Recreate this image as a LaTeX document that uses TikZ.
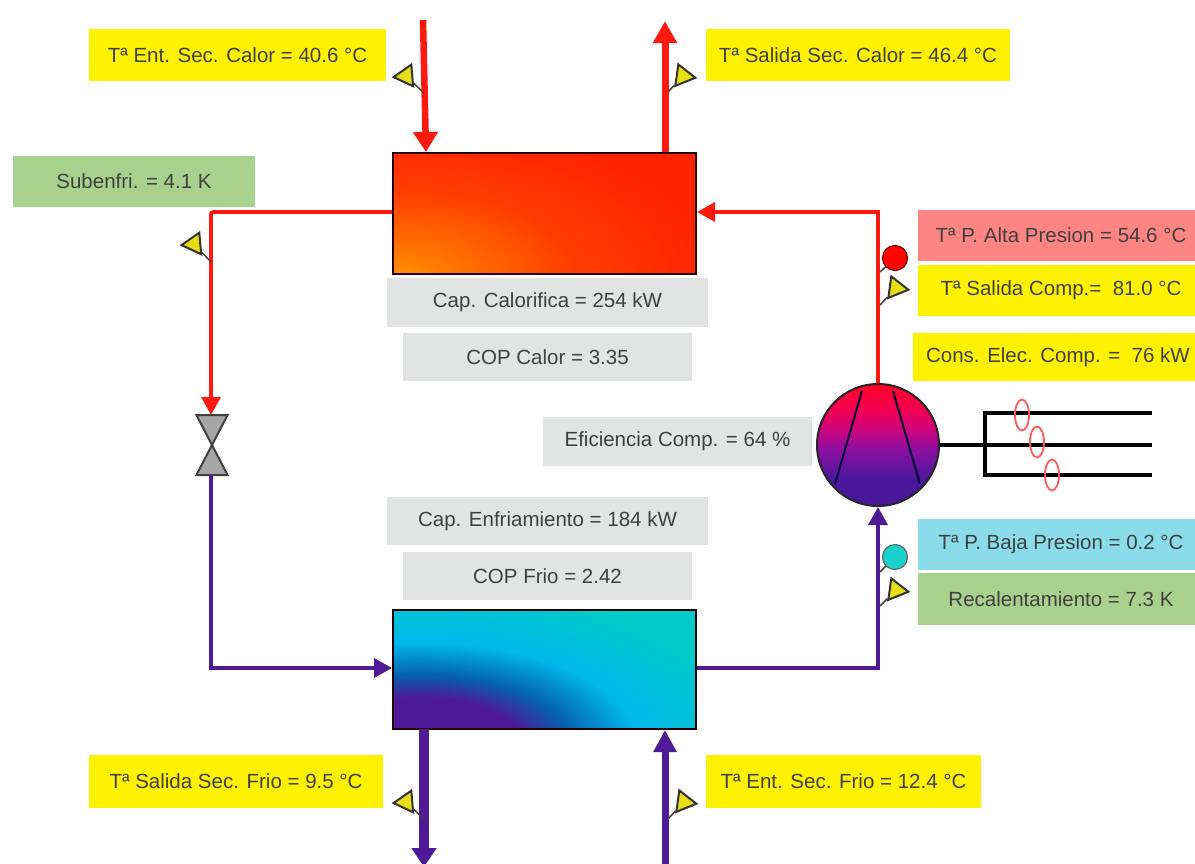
\documentclass[tikz,border=0pt]{standalone}
\usepackage{fontspec}
\setmainfont{Liberation Sans}
\usetikzlibrary{arrows.meta,shapes.geometric,calc}
\definecolor{lblyellow}{HTML}{FFF200}
\definecolor{lblgreen}{HTML}{A9D18E}
\definecolor{lblgray}{HTML}{E2E3E3}
\definecolor{lblpink}{HTML}{FF8585}
\definecolor{lblcyan}{HTML}{8ADCEA}
\definecolor{hotred}{HTML}{FF2400}
\definecolor{pipered}{HTML}{FF1A10}
\definecolor{coldpurple}{HTML}{4F1A96}
\definecolor{coldteal}{HTML}{00CBC8}
\pgfdeclareradialshading{hotshade}{\pgfpoint{0bp}{0bp}}{
  rgb(0bp)=(1,0.56,0);
  rgb(6bp)=(1,0.42,0);
  rgb(14bp)=(1,0.24,0);
  rgb(25bp)=(1,0.14,0);
  rgb(50bp)=(1,0.14,0)}
\pgfdeclareradialshading{coldshade}{\pgfpoint{0bp}{0bp}}{
  rgb(0bp)=(0.31,0.1,0.59);
  rgb(7.5bp)=(0.3,0.1,0.6);
  rgb(11bp)=(0.02,0.38,0.69);
  rgb(16bp)=(0,0.72,0.92);
  rgb(25bp)=(0,0.8,0.78);
  rgb(50bp)=(0,0.8,0.78)}
\pgfdeclareverticalshading{compshade}{100bp}{
  rgb(0bp)=(0.29,0.09,0.6);
  rgb(25bp)=(0.29,0.09,0.6);
  rgb(36bp)=(0.29,0.09,0.61);
  rgb(48bp)=(0.54,0.06,0.63);
  rgb(56bp)=(0.8,0.02,0.5);
  rgb(64bp)=(0.94,0,0.33);
  rgb(75bp)=(1,0,0.15);
  rgb(100bp)=(1,0,0.15)}
\tikzset{
  lbl/.style={inner sep=0pt, font=\fontsize{20.5}{20.5}\selectfont, text=black!75},
  yellowlbl/.style={lbl, fill=lblyellow},
  greenlbl/.style={lbl, fill=lblgreen},
  graylbl/.style={lbl, fill=lblgray},
  pinklbl/.style={lbl, fill=lblpink},
  cyanlbl/.style={lbl, fill=lblcyan},
  exchanger/.style={draw=black!85!red, line width=2pt, minimum width=303, minimum height=121, inner sep=0pt},
  redline/.style={draw=pipered, line width=3.6pt},
  purpleline/.style={draw=coldpurple, line width=3.6pt},
  tipf/.style={-{Triangle[length=18,width=19]}},
  sensor/.style={regular polygon, regular polygon sides=3, draw=black!80, fill=yellow!90!black, line width=2pt, minimum size=25, inner sep=0pt},
  stub/.style={draw=black!75, line width=1.5pt},
  wire/.style={draw=black, line width=3.6pt},
  phase/.style={ellipse, draw=red!65, line width=1.8pt, minimum width=14, minimum height=31, inner sep=0pt},
  valvepart/.style={isosceles triangle, isosceles triangle apex angle=55, fill=black!35, draw=black!75, line width=2pt, minimum height=30, minimum width=30, inner sep=0pt, outer sep=0pt, anchor=apex},
}
\begin{document}
\begin{tikzpicture}[x=1pt,y=-1pt]
\useasboundingbox (0,0) rectangle (1195,863);
\fill[white] (0,0) rectangle (1195,863);

% heat exchanger interiors
\begin{scope}
  \clip (393,153) rectangle (696,274);
  \fill[hotred] (393,153) rectangle (696,274);
  \shade[shading=hotshade] (400,275) ellipse [x radius=310, y radius=150];
\end{scope}
\begin{scope}
  \clip (393,610) rectangle (696,729);
  \fill[coldteal] (393,610) rectangle (696,729);
  \shade[shading=coldshade] (420,745) ellipse [x radius=340, y radius=160];
\end{scope}
\node[exchanger] (cond) at (544.5,213.5) {};
\node[exchanger, minimum height=119] (evap) at (544.5,669.5) {};

% labels
\node[yellowlbl, minimum width=297, minimum height=52] (l1) at (237.5,55) {Tª Ent. Sec. Calor = 40.6 °C};
\node[yellowlbl, minimum width=304, minimum height=52] (l2) at (858,55) {Tª Salida Sec. Calor = 46.4 °C};
\node[greenlbl, minimum width=242, minimum height=51] (l3) at (134,181.5) {Subenfri. = 4.1 K};
\node[graylbl, minimum width=321, minimum height=49] (l4) at (547.5,302.5) {Cap. Calorifica = 254 kW};
\node[graylbl, minimum width=289, minimum height=48] (l5) at (547.5,357) {COP Calor = 3.35};
\node[pinklbl, minimum width=277, minimum height=51] (l6) at (1056.5,235.5) {\hspace*{9pt}Tª P. Alta Presion = 54.6 °C};
\node[yellowlbl, minimum width=277, minimum height=51] (l7) at (1056.5,290.5) {\hspace*{9pt}Tª Salida Comp.=\ \ 81.0 °C};
\node[yellowlbl, minimum width=282, minimum height=48] (l8) at (1054,357) {\hspace*{8pt}Cons. Elec. Comp. =\ \ 76 kW};
\node[graylbl, minimum width=269, minimum height=49] (l9) at (677.5,441.5) {Eficiencia Comp. = 64 \%};
\node[graylbl, minimum width=321, minimum height=48] (l10) at (547.5,521) {Cap. Enfriamiento = 184 kW};
\node[graylbl, minimum width=289, minimum height=48] (l11) at (547.5,576) {COP Frio = 2.42};
\node[cyanlbl, minimum width=277, minimum height=51] (l12) at (1056.5,544.5) {\hspace*{9pt}Tª P. Baja Presion = 0.2 °C};
\node[greenlbl, minimum width=277, minimum height=52] (l13) at (1056.5,599) {\hspace*{9pt}Recalentamiento = 7.3 K};
\node[yellowlbl, minimum width=294, minimum height=53] (l14) at (236,781.5) {Tª Salida Sec. Frio = 9.5 °C};
\node[yellowlbl, minimum width=275, minimum height=53] (l15) at (843.5,781.5) {Tª Ent. Sec. Frio = 12.4 °C};

% compressor
\node[circle, draw=black!85, line width=2pt, minimum size=122, inner sep=0pt, shade, shading=compshade] (comp) at (878,445) {};
\coordinate (bl1) at (862,391);
\coordinate (bl2) at (835,484);
\coordinate (br1) at (893,391);
\coordinate (br2) at (920,484);
\draw[draw=black!80!blue, line width=2pt] (bl1) -- (bl2);
\draw[draw=black!80!blue, line width=2pt] (br1) -- (br2);

% valve
\coordinate (vt) at (212,445);
\node[valvepart, shape border rotate=-90] (valvetop) at (vt) {};
\node[valvepart, shape border rotate=90] (valvebot) at (vt) {};

% refrigerant lines
\coordinate (c1) at (878,212);
\coordinate (c2) at (211,212);
\coordinate (c3) at (211,668);
\coordinate (c4) at (878,668);
\draw[redline, tipf] (comp.north) -- (c1) -- (cond.east |- c1);
\draw[redline, tipf, rounded corners=2pt] (cond.west |- c2) -- (c2) -- (c2 |- valvetop.north);
\draw[purpleline, tipf] (c3 |- valvebot.south) -- (c3) -- (evap.west |- c3);
\draw[purpleline, tipf] (evap.east |- c4) -- (c4) -- (comp.south);

% secondary pipes
\coordinate (a1) at (423,20);
\coordinate (a2) at (426,152);
\coordinate (a3) at (665,152);
\coordinate (a4) at (665,21);
\coordinate (a5) at (424,729);
\coordinate (a6) at (424,867);
\coordinate (a7) at (665,866);
\coordinate (a8) at (665,730);
\draw[draw=pipered, line width=6.5pt, -{Triangle[length=20,width=24]}] (a1) -- (a2);
\draw[draw=pipered, line width=7pt, -{Triangle[length=22,width=23]}] (a3) -- (a4);
\draw[draw=coldpurple, line width=10pt, -{Triangle[length=19,width=24]}] (a5) -- (a6);
\draw[draw=coldpurple, line width=7pt, -{Triangle[length=22,width=22]}] (a7) -- (a8);

% sensors
\node[sensor, rotate=-25] (s1) at (406,76) {};
\draw[stub] (s1) -- (424,93) coordinate (s1e);
\node[sensor, rotate=22] (s2) at (683,76) {};
\draw[stub] (s2) -- (668,92) coordinate (s2e);
\node[sensor, rotate=-25] (s3) at (194,244) {};
\draw[stub] (s3) -- (211,262) coordinate (s3e);
\node[sensor, rotate=22] (s4) at (896,288) {};
\draw[stub] (s4) -- (880,305) coordinate (s4e);
\node[sensor, rotate=22] (s5) at (896,590) {};
\draw[stub] (s5) -- (880,606) coordinate (s5e);
\node[sensor, rotate=-25] (s6) at (406,802) {};
\draw[stub] (s6) -- (424,819) coordinate (s6e);
\node[sensor, rotate=22] (s7) at (684,802) {};
\draw[stub] (s7) -- (667,820) coordinate (s7e);

\node[circle, fill=red!95!orange, draw=black!55!red, line width=1.2pt, minimum size=25, inner sep=0pt] (p1) at (895,258) {};
\draw[stub] (p1) -- (880,272) coordinate (p1e);
\node[circle, fill=coldteal!90!white, draw=black!60, line width=1.2pt, minimum size=25, inner sep=0pt] (p2) at (895,557) {};
\draw[stub] (p2) -- (880,572) coordinate (p2e);

% electrical wires
\coordinate (w1) at (1152,413);
\coordinate (w2) at (1152,445);
\coordinate (w3) at (1152,475);
\coordinate (w4) at (985,413);
\coordinate (w5) at (985,475);
\draw[wire] (comp.east) -- (w2);
\draw[wire] (w1) -- (w4) -- (w5) -- (w3);
\node[phase] (o1) at (1022,415) {};
\node[phase] (o2) at (1037,442) {};
\node[phase] (o3) at (1052,475) {};
\end{tikzpicture}
\end{document}
